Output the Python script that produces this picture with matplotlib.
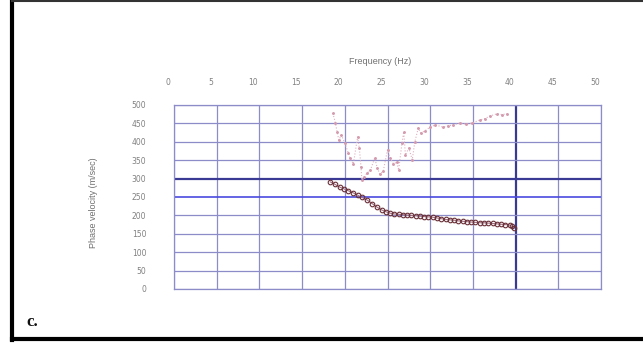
import matplotlib
matplotlib.use("Agg")
import matplotlib.pyplot as plt
import matplotlib.transforms as mtransforms
from matplotlib.lines import Line2D

# ---- data ----
x_ticks = [0, 5, 10, 15, 20, 25, 30, 35, 40, 45, 50]
y_ticks = [0, 50, 100, 150, 200, 250, 300, 350, 400, 450, 500]

# upper (noisy) dispersion curve
upper_freq = [18.6, 18.9, 19.1, 19.3, 19.6, 20.0, 20.4, 20.6, 21.0, 21.5, 21.7, 21.9,
              22.0, 22.3, 22.6, 23.0, 23.5, 23.8, 24.1, 24.5, 25.0, 25.3, 25.7, 26.1,
              26.3, 26.7, 26.9, 27.1, 27.5, 27.9, 28.2, 28.6, 28.9, 29.4, 30.0, 30.6,
              31.5, 32.1, 32.7, 33.5, 34.2, 34.9, 35.8, 36.4, 37.0, 37.8, 38.4, 39.0]
upper_vel = [478, 451, 427, 405, 418, 397, 370, 356, 340, 413, 383, 331,
             296, 305, 315, 323, 356, 329, 312, 320, 378, 356, 340, 345,
             323, 397, 427, 364, 383, 351, 400, 437, 424, 430, 440, 446,
             440, 443, 446, 451, 448, 451, 459, 463, 470, 476, 474, 476]

# lower (smooth) dispersion curve
lower_freq = [18.3, 18.8, 19.4, 19.9, 20.4, 21.0, 21.5, 22.0, 22.6, 23.2, 23.8,
              24.3, 24.8, 25.3, 25.8, 26.3, 26.8, 27.3, 27.8, 28.3, 28.8, 29.3,
              29.8, 30.3, 30.8, 31.3, 31.8, 32.3, 32.8, 33.3, 33.8, 34.3, 34.8,
              35.3, 35.8, 36.3, 36.8, 37.3, 37.8, 38.3, 38.8, 39.3, 39.6, 39.8]
lower_vel = [291, 285, 277, 272, 267, 261, 255, 249, 242, 232, 222,
             215, 210, 206, 204, 203, 202, 201, 200, 199, 198, 197,
             196, 195, 193, 191, 189, 188, 187, 185, 184, 183, 182,
             181, 180, 180, 179, 178, 177, 176, 175, 174, 170, 166]

W, H, DPI = 643, 344, 100
fig = plt.figure(figsize=(W / DPI, H / DPI), dpi=DPI)
fig.patch.set_facecolor("white")

ax = fig.add_axes([174 / W, 1 - 289 / H, (601 - 174) / W, (289 - 105) / H])
ax.set_xlim(0, 50)
ax.set_ylim(0, 500)

grid_c = "#8c8cc8"
for xv in x_ticks:
    lw, c = (1.6, "#3a3a95") if xv == 40 else (0.9, grid_c)
    ax.axvline(xv, color=c, lw=lw, zorder=1)
for yv in y_ticks:
    if yv == 300:
        lw, c = 1.6, "#3a3a95"
    elif yv == 250:
        lw, c = 1.2, "#4a4ae0"
    else:
        lw, c = 0.9, grid_c
    ax.axhline(yv, color=c, lw=lw, zorder=1)

for s in ax.spines.values():
    s.set_color(grid_c)
    s.set_linewidth(0.9)

ax.plot(upper_freq, upper_vel, linestyle=":", color="#e0b0c0", lw=0.8,
        marker=".", markersize=2.2, markerfacecolor="#d49aae",
        markeredgecolor="#d49aae", zorder=3)
ax.plot(lower_freq, lower_vel, linestyle="-", color="#a07080", lw=0.8,
        marker="o", markersize=3.3, markerfacecolor="none",
        markeredgecolor="#6a3038", markeredgewidth=0.8, zorder=4)

ax.xaxis.tick_top()
ax.set_xticks(x_ticks)
ax.set_yticks(y_ticks)
ax.tick_params(axis="both", length=0, labelsize=5.5, colors="#808080")
ax.tick_params(axis="x", pad=13)
ax.tick_params(axis="y", pad=20)
offset = mtransforms.ScaledTranslation(-6 / DPI, 0, fig.dpi_scale_trans)
for lab in ax.get_xticklabels():
    lab.set_transform(lab.get_transform() + offset)

fig.text(380 / W, 1 - 62 / H, "Frequency (Hz)", ha="center", va="center",
         fontsize=6.5, color="#707070", family="Liberation Sans")
fig.text(93 / W, 1 - 203 / H, "Phase velocity (m/sec)", ha="center", va="center",
         rotation=90, fontsize=6.5, color="#707070", family="Liberation Sans")

fig.text(32 / W, 1 - 322 / H, "c.", ha="center", va="center", fontsize=12,
         fontweight="bold", family="Liberation Serif", color="#111111")

# outer frame (left, top, bottom)
fig.add_artist(Line2D([12 / W, 12 / W], [1 - 340 / H, 1.0], transform=fig.transFigure,
                      color="black", lw=3))
fig.add_artist(Line2D([12 / W, 1.0], [1 - 1 / H, 1 - 1 / H], transform=fig.transFigure,
                      color="#333333", lw=1.5))
fig.add_artist(Line2D([12 / W, 1.0], [1 - 339 / H, 1 - 339 / H], transform=fig.transFigure,
                      color="black", lw=3))

fig.savefig("out.png", dpi=DPI)
